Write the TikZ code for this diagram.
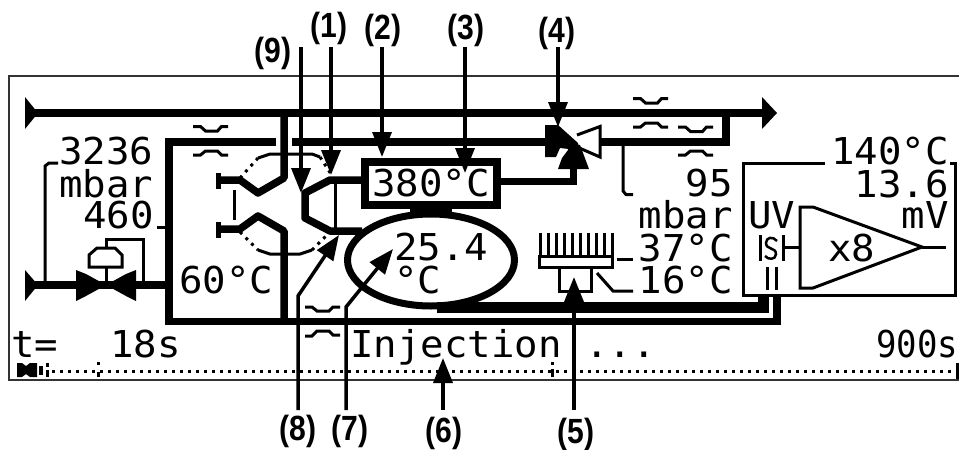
\documentclass[tikz,border=0pt]{standalone}
\usepackage{fontspec}
\usetikzlibrary{arrows.meta,shapes.geometric}
\newfontfamily\lcdfont[FakeStretch=1.055]{DejaVu Sans Mono}
\newfontfamily\lcdnarrow[FakeStretch=.92]{DejaVu Sans Mono}
\newfontfamily\labfont[FakeStretch=.86]{Liberation Sans Bold}
\tikzset{
  lcd/.style={inner sep=0pt,anchor=base west,font=\lcdfont\fontsize{37}{37}\selectfont},
  lcdr/.style={lcd,anchor=base east},
  lab/.style={inner sep=0pt,font=\labfont\fontsize{35}{35}\selectfont,text=black},
  thick pipe/.style={line width=7.5pt,line join=miter},
  heavy/.style={line width=11pt},
  thin pipe/.style={line width=3pt},
  pixeldots/.style={line width=3pt,dash pattern=on 3pt off 5pt},
  callout/.style={line width=3.5pt,-{Triangle[length=25pt,width=19pt]}},
  restrict/.style={line width=3pt},
  frameline/.style={line width=2.2pt,draw=black!80}
}
\begin{document}
\begin{tikzpicture}[x=1pt,y=-1pt]
\useasboundingbox (0,0) rectangle (959,450);
% frame
\draw[frameline] (959,76) -- (9,76) -- (9,380) -- (959,380);
% main pipes
\draw[thick pipe] (30,113) -- (765,113);
\fill (25,97) -- (38,113) -- (25,129) -- cycle;
\fill (762,97) -- (777,113) -- (762,129) -- cycle;
\draw[thick pipe] (276,142) -- (165,142);
\draw[thick pipe] (169,138) -- (169,321.5) -- (781,321.5);
\draw[line width=8pt] (777,295) -- (777,325);
\draw[thick pipe] (292,142) -- (560,142);
\draw[thick pipe] (600,142) -- (726,142) -- (726,110);
% valve block columns
\draw[thick pipe,line join=round] (284,113) -- (284,178) -- (258,193) -- (240,180) -- (218,180);
\draw[thick pipe,line join=round] (218,229) -- (240,229) -- (258,216) -- (284,231) -- (284,322);
\draw[line width=5pt] (218.5,173) -- (218.5,189);
\draw[line width=5pt] (218.5,222) -- (218.5,238);
\draw[thin pipe] (234,190) -- (234,220);
% dotted rotor
\draw[pixeldots] (240,178) -- (258,158);
\draw[thin pipe] (258,158) -- (270,154) -- (312,154) -- (320,157);
\draw[pixeldots] (320,157) -- (331,174);
\draw[pixeldots] (240,232) -- (258,250);
\draw[thin pipe] (258,250) -- (270,254) -- (300,254) -- (312,250);
\draw[pixeldots] (312,250) -- (330,232);
% oven and sample loop
\node[draw,line width=7.5pt,minimum width=132pt,minimum height=43pt,inner sep=0pt,font=\lcdfont\fontsize{37}{37}\selectfont] (oven) at (431,183.5) {380°C};
\draw[thick pipe,line join=round] (oven.west |- 0,180) -- (330,180) -- (305,193) -- (305,218) -- (330,231) -- (362,231);
\draw[thin pipe] (335,180) -- (335,231);
% ellipse
\node[draw,ellipse,line width=7pt,minimum width=167pt,minimum height=92pt,inner sep=0pt] (trap) at (431,260) {};
\fill (410,206) rectangle (452,216);
\draw[heavy] (437,307.5) -- (763.5,307.5);
\draw[heavy] (763.5,313) -- (763.5,295);
% oven to switching valve
\draw[thick pipe] (oven.east |- 0,181.5) -- (573.5,181.5) -- (573.5,165);
\fill (545,125) -- (558,125) -- (578,143) -- (578,150) -- (560,148) -- (556,157) -- (545,157) -- cycle;
\fill (558,169) -- (562,158) -- (568,150) -- (568,142) -- (580,145) -- (589,169) -- cycle;
\draw[thin pipe] (577,135) -- (600,126.5) -- (600,157) -- (577,147);
% restrictors
\foreach \cx/\ya/\yb/\yc/\yd in {210.5/126.5/131/155/151, 650.5/98.5/103/127/123, 695.5/127/131.5/155/151}{
  \draw[restrict] (\cx-17.5,\ya) -- (\cx-10,\ya) -- (\cx-5,\yb) -- (\cx+7,\yb) -- (\cx+11,\ya) -- (\cx+17.5,\ya);
  \draw[restrict] (\cx-17.5,\yc) -- (\cx-10,\yc) -- (\cx-5,\yd) -- (\cx+7,\yd) -- (\cx+11,\yc) -- (\cx+17.5,\yc);
}
\draw[restrict] (305,307) -- (312,307) -- (317,311) -- (329,311) -- (333,307) -- (340,307);
\draw[restrict] (305,336) -- (312,336) -- (317,331) -- (329,331) -- (333,335) -- (340,335);
% inlet regulator
\draw[thick pipe] (35,285) -- (165,285);
\fill (25,270) -- (38,285) -- (25,301) -- cycle;
\fill (76,270) -- (86,274) -- (106,285) -- (86,296) -- (76,301) -- cycle;
\fill (136,270) -- (126,274) -- (106,285) -- (126,296) -- (136,301) -- cycle;
\draw[thin pipe] (106,285) -- (106,267);
\draw[thin pipe] (89,267) -- (89,255) -- (97,248) -- (115,248) -- (122,255) -- (122,267) -- cycle;
\draw[thin pipe] (106,248) -- (106,239) -- (143,239) -- (143,285);
\draw[thin pipe] (45,282) -- (45,166) -- (49,163) -- (58,163);
\draw[thin pipe] (157,227) -- (165,227);
% pressure tap right
\draw[thin pipe] (623,142) -- (623,191) -- (626,194.5) -- (633,194.5);
% detector
\draw[thin pipe] (825,163) -- (743,163) -- (743,295) -- (955,295) -- (955,163) -- (950,163);
\draw[thin pipe] (813,207) -- (800,207) -- (800,288) -- (813,288) -- (922,247) -- cycle;
\draw[thin pipe] (922,247) -- (946,247);
\draw[thin pipe] (760,235) -- (760,261);
\draw[line width=2.5pt] (777,241) .. controls (773,236) and (766,237) .. (766,243) .. controls (766,250) and (776,247) .. (776,254) .. controls (776,260) and (768,260) .. (765,256);
\draw[thin pipe] (783,235) -- (783,261);
\draw[thin pipe] (783,247) -- (800,247);
\draw[thin pipe] (767,267) -- (767,290);
\draw[thin pipe] (776,267) -- (776,290);
% cooler
\draw[thin pipe] (539.5,256.5) rectangle (612.5,267);
\foreach \k in {0,...,9}{\draw[thin pipe] (540.5+8*\k,233) -- (540.5+8*\k,257);}
\draw[thin pipe] (559,267) -- (559,291.5) -- (591,291.5) -- (591,267);
\draw[thin pipe] (617,259) -- (633,259);
\draw[thin pipe] (597,273) -- (613,291) -- (633,291);
% timeline
\draw[pixeldots] (52,371) -- (955,371);
\fill (17,363) -- (22,363) -- (26,366) -- (30,363) -- (37,363) -- (37,377) -- (30,377) -- (26,374) -- (22,377) -- (17,377) -- cycle;
\fill (39,366) rectangle (43,375);
\draw[thin pipe] (47,363) -- (47,367);
\draw[thin pipe] (47,370) -- (47,377);
\fill (96.5,362) rectangle (99.5,365);
\fill (96.5,372) rectangle (99.5,377);
\fill (550.5,362) rectangle (553.5,365);
\fill (550.5,369) rectangle (553.5,377);
\draw[thin pipe] (957.5,363) -- (957.5,379);
% texts
\node[lcd] (a1) at (59,164) {3236};
\node[lcd] (a2) at (59,197) {mbar};
\node[lcd] (a3) at (83,228) {460};
\node[lcd] (a4) at (179,293) {60°C};
\node[lcd] (a5) at (11,357) {t=};
\node[lcd] (a6) at (110,357) {18s};
\node[lcd] (a7) at (350,357) {Injection ...};
\node[lcd,font=\lcdnarrow\fontsize{37}{37}\selectfont] (a8) at (876,357) {900s};
\node[lcdr] (b1) at (733,196) {95};
\node[lcdr] (b2) at (733,228) {mbar};
\node[lcdr] (b3) at (733,261) {37°C};
\node[lcdr] (b4) at (733,293) {16°C};
\node[lcdr] (c1) at (949,164) {140°C};
\node[lcdr] (c2) at (949,197) {13.6};
\node[lcdr] (c3) at (949,228) {mV};
\node[lcd] (c4) at (748,228) {UV};
\node[lcd] (c5) at (828,261) {x8};
\node[lcd] (d1) at (394,260) {25.4};
\node[lcd] (d2) at (394,293) {°C};
% callouts
\coordinate (s9) at (301,47); \coordinate (t9) at (301,193);
\coordinate (s1) at (331,47); \coordinate (t1) at (331,175);
\coordinate (s2) at (382,47); \coordinate (t2) at (382,157);
\coordinate (s3) at (465,47); \coordinate (t3) at (465,173);
\coordinate (s4) at (558,47); \coordinate (t4) at (558,127);
\coordinate (s6) at (443,410); \coordinate (t6) at (443,358);
\coordinate (s5) at (574,410); \coordinate (t5) at (574,277);
\coordinate (s8) at (298,410); \coordinate (k8) at (298,296); \coordinate (t8) at (339,235);
\coordinate (s7) at (346,410); \coordinate (k7) at (346,307); \coordinate (t7) at (393,249);
\foreach \n in {9,1,2,3,4,6,5}{\draw[callout] (s\n) -- (t\n);}
\draw[callout] (s8) -- (k8) -- (t8);
\draw[callout] (s7) -- (k7) -- (t7);
\node[lab] (l9) at (273,53) {(9)};
\node[lab] (l1) at (329,28) {(1)};
\node[lab] (l2) at (383,30) {(2)};
\node[lab] (l3) at (466,30) {(3)};
\node[lab] (l4) at (557,33) {(4)};
\node[lab] (l8) at (298,431) {(8)};
\node[lab] (l7) at (350,431) {(7)};
\node[lab] (l6) at (444,433) {(6)};
\node[lab] (l5) at (576,434) {(5)};
\end{tikzpicture}
\end{document}
